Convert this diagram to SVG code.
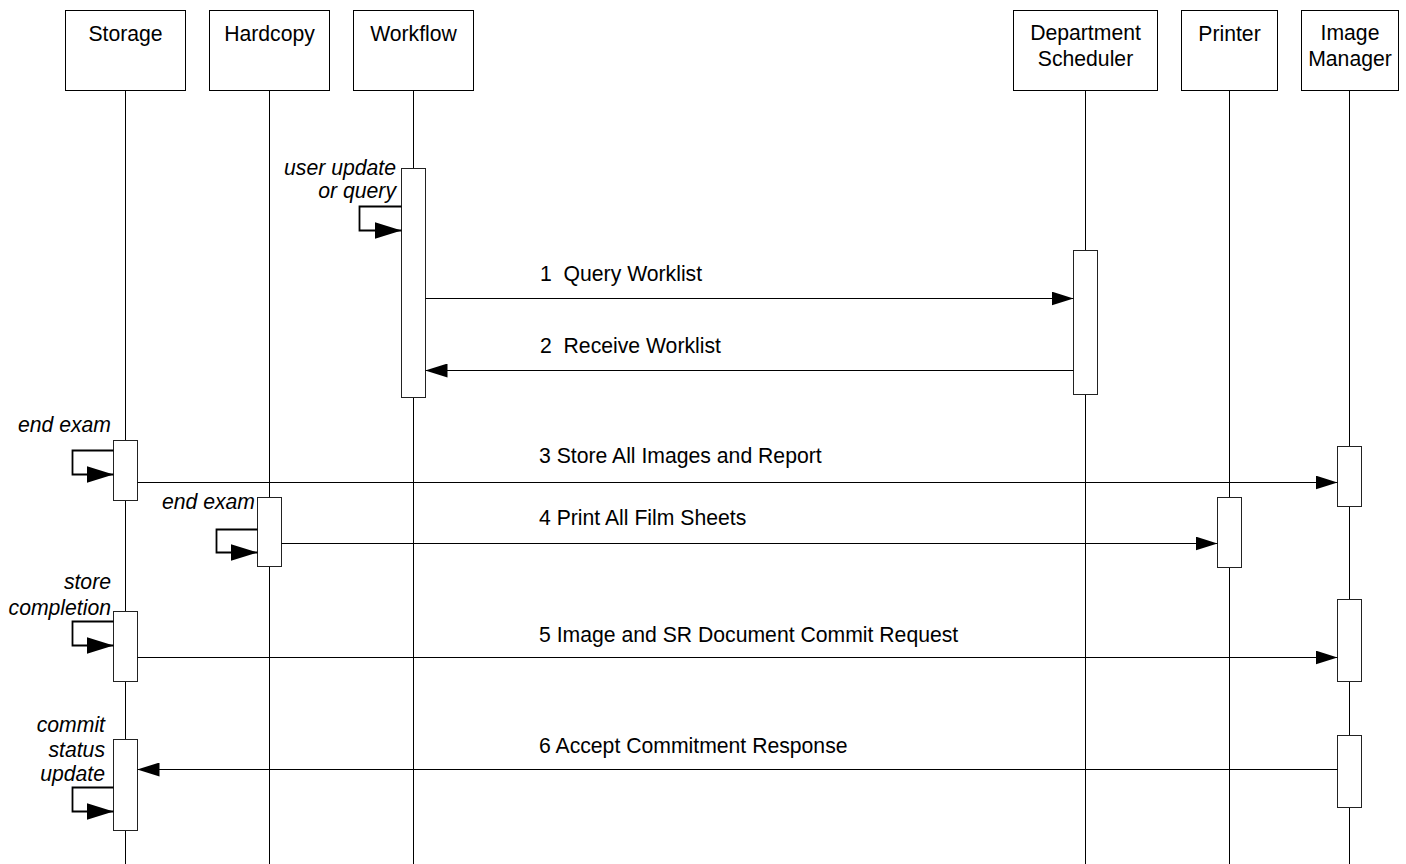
<svg xmlns="http://www.w3.org/2000/svg" width="1406" height="864" viewBox="0 0 1406 864">
<style>
  .box{fill:#fff;stroke:#000;stroke-width:1}
  .act{fill:#fff;stroke:#222;stroke-width:1}
  .life{stroke:#000;stroke-width:1;fill:none}
  .t{font-family:"Liberation Sans",Arial,sans-serif;font-size:21.2px;fill:#000}
  .c{text-anchor:middle}
  .i{font-style:italic;text-anchor:end}
  .msg{stroke:#000;stroke-width:1;fill:none;marker-end:url(#ah)}
  .self{stroke:#000;stroke-width:1.8;fill:none;marker-end:url(#sh)}
</style>
<defs>
  <marker id="ah" markerUnits="userSpaceOnUse" markerWidth="22" markerHeight="14" refX="22" refY="7" orient="auto">
    <path d="M0,0 L22,7 L0,14 z" fill="#000"/>
  </marker>
  <marker id="sh" markerUnits="userSpaceOnUse" markerWidth="27" markerHeight="17" refX="27" refY="8.5" orient="auto">
    <path d="M0,0 L27,8.5 L0,17 z" fill="#000"/>
  </marker>
</defs>
<rect width="1406" height="864" fill="#fff"/>

<g id="storage">
  <line class="life" x1="125.5" y1="90" x2="125.5" y2="864"/>
  <rect class="box" x="65.5" y="10.5" width="120" height="80"/>
  <text class="t c" x="125.5" y="41">Storage</text>
  <rect class="act" x="113.5" y="440.5" width="24" height="60"/>
  <rect class="act" x="113.5" y="611.5" width="24" height="70"/>
  <rect class="act" x="113.5" y="739.5" width="24" height="91"/>
</g>
<g id="hardcopy">
  <line class="life" x1="269.5" y1="90" x2="269.5" y2="864"/>
  <rect class="box" x="209.5" y="10.5" width="120" height="80"/>
  <text class="t c" x="269.5" y="41">Hardcopy</text>
  <rect class="act" x="257.5" y="497.5" width="24" height="69"/>
</g>
<g id="workflow">
  <line class="life" x1="413.5" y1="90" x2="413.5" y2="864"/>
  <rect class="box" x="353.5" y="10.5" width="120" height="80"/>
  <text class="t c" x="413.5" y="41">Workflow</text>
  <rect class="act" x="401.5" y="168.5" width="24" height="229"/>
</g>
<g id="department-scheduler">
  <line class="life" x1="1085.5" y1="90" x2="1085.5" y2="864"/>
  <rect class="box" x="1013.5" y="10.5" width="144" height="80"/>
  <text class="t c" x="1085.5" y="40">Department</text>
  <text class="t c" x="1085.5" y="65.5">Scheduler</text>
  <rect class="act" x="1073.5" y="250.5" width="24" height="144"/>
</g>
<g id="printer">
  <line class="life" x1="1229.5" y1="90" x2="1229.5" y2="864"/>
  <rect class="box" x="1181.5" y="10.5" width="96" height="80"/>
  <text class="t c" x="1229.5" y="41">Printer</text>
  <rect class="act" x="1217.5" y="497.5" width="24" height="70"/>
</g>
<g id="image-manager">
  <line class="life" x1="1349.5" y1="90" x2="1349.5" y2="864"/>
  <rect class="box" x="1301.5" y="10.5" width="97" height="80"/>
  <text class="t c" x="1350" y="40">Image</text>
  <text class="t c" x="1350" y="65.5">Manager</text>
  <rect class="act" x="1337.5" y="446.5" width="24" height="60"/>
  <rect class="act" x="1337.5" y="599.5" width="24" height="82"/>
  <rect class="act" x="1337.5" y="735.5" width="24" height="72"/>
</g>

<g id="connectors">
  <path class="self" d="M401.5,206.5 H359.5 V230.5 H401.5"/>
  <text class="t i" x="396" y="175">user update</text>
  <text class="t i" x="396" y="198">or query</text>

  <line class="msg" x1="425.5" y1="298.5" x2="1073.5" y2="298.5"/>
  <text class="t" x="540" y="281" xml:space="preserve">1  Query Worklist</text>

  <line class="msg" x1="1073.5" y1="370.5" x2="425.5" y2="370.5"/>
  <text class="t" x="540" y="353" xml:space="preserve">2  Receive Worklist</text>

  <path class="self" d="M113.5,450.5 H72.5 V474.5 H113.5"/>
  <text class="t i" x="111" y="432">end exam</text>

  <line class="msg" x1="137.5" y1="482.5" x2="1337.5" y2="482.5"/>
  <text class="t" x="539" y="463">3 Store All Images and Report</text>

  <path class="self" d="M257.5,529.5 H216.5 V552.5 H257.5"/>
  <text class="t i" x="255" y="509">end exam</text>

  <line class="msg" x1="281.5" y1="543.5" x2="1217.5" y2="543.5"/>
  <text class="t" x="539" y="525">4 Print All Film Sheets</text>

  <path class="self" d="M113.5,621.5 H72.5 V645.5 H113.5"/>
  <text class="t i" x="111" y="589">store</text>
  <text class="t i" x="111" y="615">completion</text>

  <line class="msg" x1="137.5" y1="657.5" x2="1337.5" y2="657.5"/>
  <text class="t" x="539" y="641.5">5 Image and SR Document Commit Request</text>

  <line class="msg" x1="1337.5" y1="769.5" x2="137.5" y2="769.5"/>
  <text class="t" x="539" y="753">6 Accept Commitment Response</text>

  <path class="self" d="M113.5,787.5 H72.5 V811.5 H113.5"/>
  <text class="t i" x="105" y="732">commit</text>
  <text class="t i" x="105" y="757">status</text>
  <text class="t i" x="105" y="781">update</text>
</g>
</svg>
